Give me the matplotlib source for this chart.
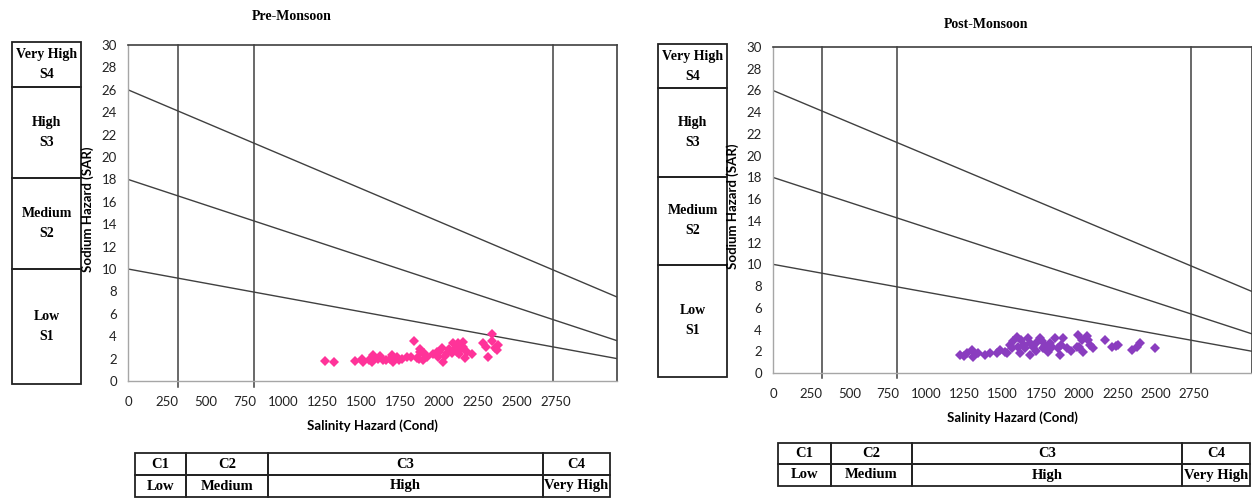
import matplotlib
matplotlib.use("Agg")
import matplotlib.pyplot as plt
from matplotlib.patches import Rectangle

# ---------------- data ----------------
pre_cond = [1266, 1324, 1459, 1502, 1512, 1550, 1566, 1577, 1609, 1620, 1641, 1660, 1684,
            1700, 1705, 1727, 1740, 1759, 1791, 1820, 1840, 1855, 1870, 1877, 1880, 1898,
            1900, 1909, 1920, 1960, 1984, 1995, 2000, 2016, 2027, 2040, 2048, 2060, 2080,
            2091, 2100, 2112, 2120, 2130, 2144, 2150, 2155, 2166, 2180, 2209, 2284, 2300,
            2316, 2337, 2340, 2359, 2370, 2380]
pre_sar = [1.81, 1.73, 1.81, 2.00, 1.72, 1.90, 1.72, 2.32, 2.00, 2.20, 1.87, 1.90, 2.00,
           2.30, 1.72, 2.17, 1.90, 2.00, 2.17, 2.10, 3.57, 2.02, 2.00, 2.62, 2.90, 1.87,
           2.50, 2.32, 2.10, 2.40, 2.62, 2.17, 2.60, 2.92, 1.72, 2.20, 2.47, 2.90, 2.50,
           3.37, 2.90, 2.62, 3.40, 2.40, 2.92, 3.00, 3.51, 2.02, 2.60, 2.38, 3.37, 3.00,
           2.17, 4.17, 3.60, 2.92, 2.80, 3.21]

post_cond = [1221, 1250, 1265, 1298, 1308, 1341, 1385, 1420, 1461, 1483, 1515, 1530, 1548,
             1559, 1570, 1592, 1602, 1613, 1620, 1640, 1646, 1668, 1679, 1679, 1700, 1720,
             1722, 1744, 1760, 1766, 1780, 1798, 1809, 1820, 1842, 1864, 1875, 1880, 1896,
             1918, 1950, 1984, 1994, 2000, 2016, 2027, 2049, 2060, 2071, 2092, 2168, 2212,
             2240, 2255, 2349, 2380, 2397, 2495]
post_sar = [1.66, 1.60, 1.81, 2.12, 1.44, 1.81, 1.66, 1.80, 1.81, 2.12, 1.96, 1.80, 2.58,
            2.27, 2.90, 3.34, 2.42, 1.81, 3.00, 2.60, 2.27, 3.19, 2.73, 1.66, 2.40, 2.00,
            2.88, 3.19, 2.90, 2.27, 2.50, 1.96, 2.73, 2.40, 3.19, 2.27, 1.66, 2.60, 3.19,
            2.27, 2.00, 2.42, 3.49, 2.40, 3.04, 1.96, 3.43, 3.00, 2.58, 2.27, 3.04, 2.42,
            2.50, 2.58, 2.12, 2.40, 2.73, 2.33]

xticks = [0, 250, 500, 750, 1000, 1250, 1500, 1750, 2000, 2250, 2500, 2750]
yticks = list(range(0, 31, 2))
class_bounds = [320, 812, 2730]          # vertical class lines (C1|C2, C2|C3, C3|C4)
sar_line_start = [26, 18, 10]            # SAR boundary lines at cond = 0
sar_line_end = [7.5, 3.6, 2.0]           # SAR boundary lines at right edge
s_labels = ["Very High\nS4", "High\nS3", "Medium\nS2", "Low\nS1"]
c_codes = ["C1", "C2", "C3", "C4"]
c_names = ["Low", "Medium", "High", "Very High"]

W, H = 1252, 499
fig = plt.figure(figsize=(W / 100, H / 100), dpi=100)
fig.patch.set_facecolor("white")

SERIF = ["Liberation Serif", "DejaVu Serif"]
SANS = ["Lato", "DejaVu Sans"]


def px_axes(l, t, r, b):
    return fig.add_axes([l / W, (H - b) / H, (r - l) / W, (b - t) / H])


def make_chart(l, t, r, b, xmax, xs, ys, color, title, title_xy, ylab_x):
    ax = px_axes(l, t, r, b)
    ax.set_xlim(0, xmax)
    ax.set_ylim(0, 30)
    for sp in ("left", "bottom"):
        ax.spines[sp].set_color("#a6a6a6")
        ax.spines[sp].set_linewidth(1.0)
    ax.spines["top"].set_color("#404040")
    ax.spines["top"].set_linewidth(1.2)
    ax.spines["right"].set_color("#404040")
    ax.spines["right"].set_linewidth(1.2)
    ax.set_xticks(xticks)
    ax.set_yticks(yticks)
    ax.tick_params(length=0, labelsize=9.5, colors="#222222")
    ax.tick_params(axis="x", pad=11)
    ax.tick_params(axis="y", pad=8)
    for lab in ax.get_xticklabels() + ax.get_yticklabels():
        lab.set_family(SANS)
    # class boundary lines
    for i, xb in enumerate(class_bounds):
        y0 = -0.5 if i < 2 else 0
        ax.plot([xb, xb], [y0, 30], color="#404040", lw=1.1, clip_on=False, zorder=2)
    # SAR boundary lines
    for s0, s1 in zip(sar_line_start, sar_line_end):
        ax.plot([0, xmax], [s0, s1], color="#404040", lw=1.0, zorder=2)
    ax.plot(xs, ys, linestyle="none", marker="D", markersize=5.6,
            color=color, markeredgewidth=0, zorder=3)
    ax.set_xlabel("Salinity Hazard (Cond)", family=SANS, fontsize=9.5,
                  fontweight="bold", labelpad=8)
    ax.set_ylabel("Sodium Hazard (SAR)", family=SANS, fontsize=9.5,
                  fontweight="bold")
    ax.yaxis.set_label_coords((ylab_x - l) / (r - l), 0.51)
    fig.text(title_xy[0] / W, 1 - title_xy[1] / H, title, family=SERIF,
             fontsize=10, fontweight="bold", ha="center", va="center")
    return ax


axL = make_chart(128, 45, 617, 381, 3143, pre_cond, pre_sar, "#ff3399",
                 "Pre-Monsoon", (292, 16), 94)
axR = make_chart(773, 47, 1252, 373, 3130, post_cond, post_sar, "#8a3dbf",
                 "Post-Monsoon", (986, 24), 739)

# overlay for the class tables
ov = fig.add_axes([0, 0, 1, 1], zorder=-1)
ov.set_xlim(0, W)
ov.set_ylim(H, 0)
ov.axis("off")


def s_box(x0, x1, edges):
    for i, lab in enumerate(s_labels):
        ov.add_patch(Rectangle((x0, edges[i]), x1 - x0, edges[i + 1] - edges[i],
                               fill=False, edgecolor="#222222", lw=1.3))
        ov.text((x0 + x1) / 2, (edges[i] + edges[i + 1]) / 2, lab, family=SERIF,
                fontsize=10, fontweight="bold", ha="center", va="center",
                linespacing=1.7)


def c_table(cols, rows):
    for i in range(4):
        for j, txt in enumerate((c_codes[i], c_names[i])):
            ov.add_patch(Rectangle((cols[i], rows[j]), cols[i + 1] - cols[i],
                                   rows[j + 1] - rows[j], fill=False,
                                   edgecolor="#222222", lw=1.3))
            ov.text((cols[i] + cols[i + 1]) / 2, (rows[j] + rows[j + 1]) / 2, txt,
                    family=SERIF, fontsize=10.5, fontweight="bold",
                    ha="center", va="center")


s_box(12, 81, [42, 87, 178, 269, 384])
s_box(658, 727, [44, 88, 177, 265, 377])
c_table([135, 186, 268, 543, 610], [453, 475, 497])
c_table([778, 831, 912, 1182, 1250], [443, 464, 486])

fig.savefig("out.png", dpi=100, facecolor="white")
